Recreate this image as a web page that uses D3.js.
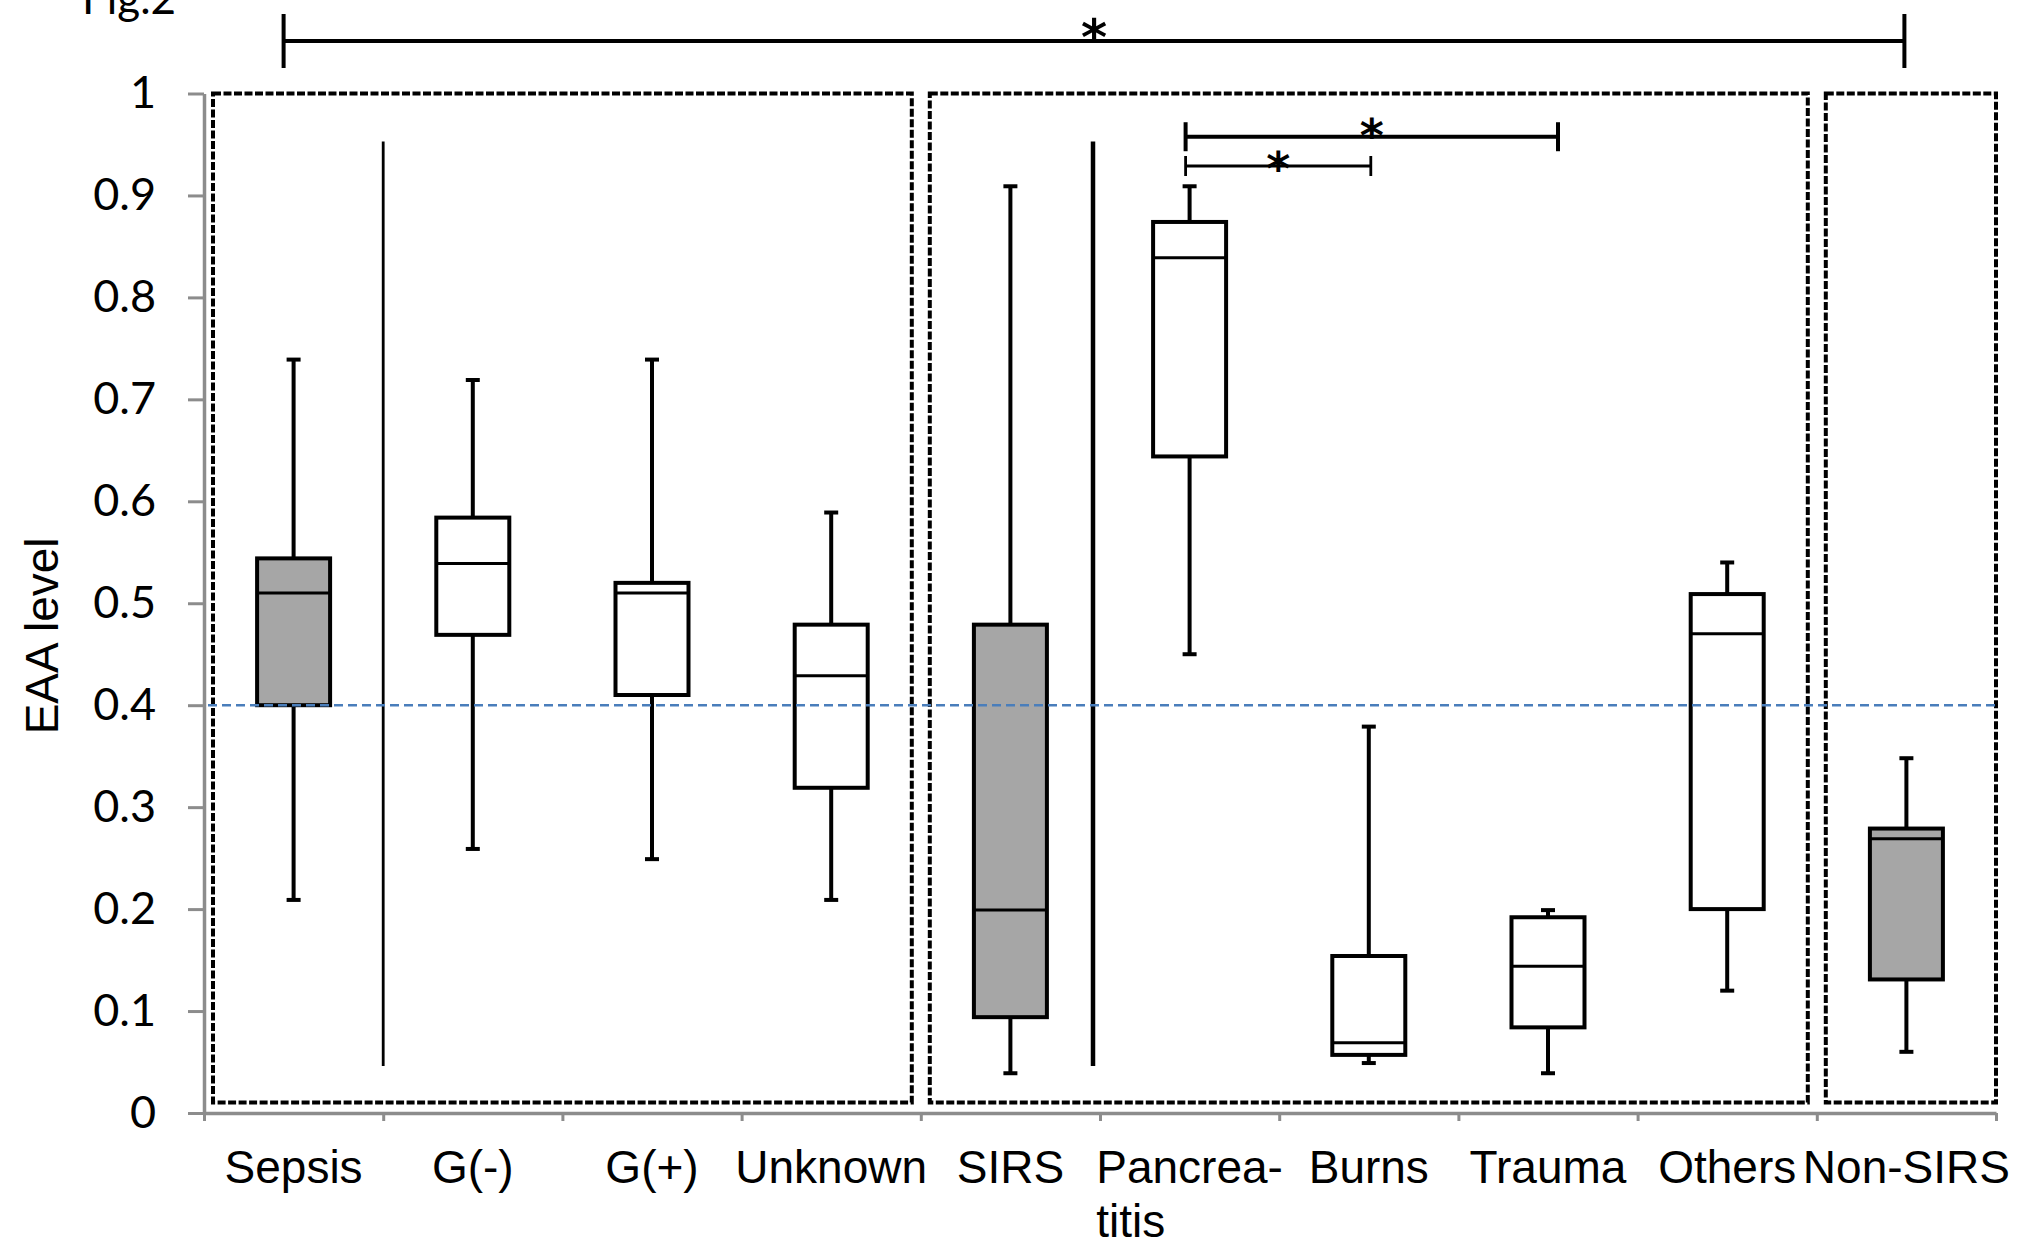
<!DOCTYPE html>
<html>
<head>
<meta charset="utf-8">
<script src="https://cdn.jsdelivr.net/npm/d3@7"></script>
<style>
  body { margin: 0; background: #fff; }
</style>
</head>
<body>
<div id="chart"></div>
<script>
// box statistics (EAA level)
const categories = ["Sepsis", "G(-)", "G(+)", "Unknown", "SIRS", "Pancrea-titis", "Burns", "Trauma", "Others", "Non-SIRS"];
const tickLabels = [["Sepsis"], ["G(-)"], ["G(+)"], ["Unknown"], ["SIRS"], ["Pancrea-", "titis"], ["Burns"], ["Trauma"], ["Others"], ["Non-SIRS"]];
const whiskerHigh = [0.739, 0.719, 0.739, 0.589, 0.909, 0.909, 0.379, 0.199, 0.540, 0.348];
const upperQuartile = [0.544, 0.584, 0.520, 0.479, 0.479, 0.874, 0.154, 0.192, 0.509, 0.279];
const medians = [0.510, 0.539, 0.510, 0.429, 0.199, 0.839, 0.069, 0.144, 0.470, 0.269];
const lowerQuartile = [0.400, 0.469, 0.410, 0.319, 0.094, 0.644, 0.057, 0.084, 0.200, 0.131];
const whiskerLow = [0.209, 0.259, 0.249, 0.209, 0.039, 0.450, 0.049, 0.039, 0.120, 0.060];
const shaded = ["Sepsis", "SIRS", "Non-SIRS"];

const yTicks = [0, 0.1, 0.2, 0.3, 0.4, 0.5, 0.6, 0.7, 0.8, 0.9, 1];
const cutoff = 0.4;

// dotted panels and the two vertical dividers
const panelFirst = ["Sepsis", "SIRS", "Non-SIRS"];
const panelLast = ["Unknown", "Others", "Non-SIRS"];
const panelTop = 1, panelBottom = 0.0103;
const dividers = ["G(-)", "Pancrea-titis"];
const dividerTop = 0.953, dividerBottom = 0.046;

// significance brackets
const sigFrom = ["Sepsis", "Pancrea-titis", "Pancrea-titis"];
const sigTo = ["Non-SIRS", "Trauma", "Burns"];
const sigLevel = [1.0515, 0.9576, 0.9289];

let margin = { top: 93.5, right: 40, bottom: 135, left: 204 },
    width = 2036 - margin.left - margin.right,
    height = 1248 - margin.top - margin.bottom;

let svgRoot = d3.select("#chart")
    .append("svg")
    .attr("width", 2036)
    .attr("height", 1248)
    .style("display", "block");

svgRoot.append("rect").attr("width", 2036).attr("height", 1248).attr("fill", "#fff");

let svg = svgRoot.append("g")
    .attr("transform", "translate(" + margin.left + "," + margin.top + ")");

let x = d3.scaleBand().domain(categories).range([0, width]);
let bw = x.bandwidth();
let cx = c => x(c) + bw / 2;
let y = d3.scaleLinear().domain([0, 1]).range([height, 0]);

const axisGrey = "#8c8c8c";

// "Fig.2" caption, cut off at the top edge as in the original
svgRoot.append("text")
    .attr("x", 82).attr("y", 14)
    .style("font", "44px Lato")
    .attr("fill", "#000")
    .text("Fig.2");

// ---- dotted panels ----
panelFirst.forEach((f, i) => {
    let x0 = x(f) + 9;
    let last = panelLast[i];
    let x1 = x(last) + bw - (last === categories[categories.length - 1] ? 0 : 9);
    svg.append("rect")
        .attr("x", x0)
        .attr("y", y(panelTop))
        .attr("width", x1 - x0)
        .attr("height", y(panelBottom) - y(panelTop))
        .attr("fill", "none")
        .attr("stroke", "#000")
        .attr("stroke-width", 4)
        .attr("stroke-dasharray", "8,2.5");
});

// ---- vertical dividers ----
dividers.forEach((d, i) => {
    svg.append("line")
        .attr("x1", x(d) - (i ? 7 : 0)).attr("x2", x(d) - (i ? 7 : 0))
        .attr("y1", y(dividerTop)).attr("y2", y(dividerBottom))
        .attr("stroke", "#000")
        .attr("stroke-width", i ? 4.5 : 2.8);
});

// ---- axes ----
let yAxis = svg.append("g")
    .call(d3.axisLeft(y).tickValues(yTicks).tickSize(16).tickSizeOuter(0).tickPadding(32)
        .tickFormat(d => String(+d.toFixed(1))));
yAxis.select(".domain").attr("stroke", axisGrey).attr("stroke-width", 3.5);
yAxis.selectAll(".tick line").attr("stroke", axisGrey).attr("stroke-width", 3);
yAxis.selectAll(".tick text")
    .attr("fill", "#000")
    .style("font", "45px Lato");

let xEdges = d3.scaleLinear().domain([0, categories.length]).range([0, width]);
let xAxis = svg.append("g")
    .attr("transform", "translate(0," + height + ")")
    .call(d3.axisBottom(xEdges).ticks(categories.length).tickSize(8).tickSizeOuter(0).tickFormat(""));
xAxis.select(".domain").attr("stroke", axisGrey).attr("stroke-width", 3.5);
xAxis.selectAll(".tick line").attr("stroke", axisGrey).attr("stroke-width", 3);

// category labels (multi-line labels share a left edge)
tickLabels.forEach((lines, i) => {
    let t = svg.append("text")
        .attr("y", height + 70)
        .style("font", "46px 'Liberation Sans', Arial, sans-serif")
        .attr("fill", "#000");
    lines.forEach((l, j) => {
        t.append("tspan").attr("dy", j ? 54 : 0).text(l);
    });
    let first = t.select("tspan").node().getComputedTextLength();
    let left = cx(categories[i]) - first / 2;
    t.selectAll("tspan").attr("x", left);
});

// y axis title
svgRoot.append("text")
    .attr("transform", "translate(58," + (margin.top + y(0.468)) + ") rotate(-90)")
    .attr("text-anchor", "middle")
    .style("font", "46px 'Liberation Sans', Arial, sans-serif")
    .attr("fill", "#000")
    .text("EAA level");

// ---- boxes ----
let boxW = 73, capW = 14;
let boxes = svg.selectAll(".box")
    .data(categories)
    .enter()
    .append("g")
    .attr("class", "box")
    .attr("transform", d => "translate(" + cx(d) + ",0)");

boxes.append("line")
    .attr("y1", (d, i) => y(whiskerLow[i]))
    .attr("y2", (d, i) => y(whiskerHigh[i]))
    .attr("stroke", "#000").attr("stroke-width", 4);

boxes.append("line")
    .attr("x1", -capW / 2).attr("x2", capW / 2)
    .attr("y1", (d, i) => y(whiskerHigh[i])).attr("y2", (d, i) => y(whiskerHigh[i]))
    .attr("stroke", "#000").attr("stroke-width", 4);

boxes.append("line")
    .attr("x1", -capW / 2).attr("x2", capW / 2)
    .attr("y1", (d, i) => y(whiskerLow[i])).attr("y2", (d, i) => y(whiskerLow[i]))
    .attr("stroke", "#000").attr("stroke-width", 4);

boxes.append("rect")
    .attr("x", -boxW / 2)
    .attr("width", boxW)
    .attr("y", (d, i) => y(upperQuartile[i]))
    .attr("height", (d, i) => y(lowerQuartile[i]) - y(upperQuartile[i]))
    .attr("fill", d => shaded.includes(d) ? "#a6a6a6" : "#fff")
    .attr("stroke", "#000").attr("stroke-width", 4);

boxes.append("line")
    .attr("x1", -boxW / 2).attr("x2", boxW / 2)
    .attr("y1", (d, i) => y(medians[i])).attr("y2", (d, i) => y(medians[i]))
    .attr("stroke", "#000").attr("stroke-width", 3);

// ---- cutoff line ----
svg.append("line")
    .attr("x1", 4).attr("x2", width)
    .attr("y1", y(cutoff)).attr("y2", y(cutoff))
    .attr("stroke", "#4a7ebb")
    .attr("stroke-width", 2.5)
    .attr("stroke-dasharray", "9,5");

// ---- significance brackets ----
const capHalf = [27, 14.5, 10];
const sigWidth = [4, 4, 2.8];
const starLift = [15, 11, 8];
const starSize = [50, 46, 46];
const nudgeFrom = [-10, -4, -4], nudgeTo = [-2, 10, 2];
sigFrom.forEach((f, i) => {
    let x0 = cx(f) + nudgeFrom[i], x1 = cx(sigTo[i]) + nudgeTo[i], ly = y(sigLevel[i]);
    let g = svg.append("g").attr("stroke", "#000").attr("stroke-width", sigWidth[i]);
    g.append("line").attr("x1", x0).attr("x2", x1).attr("y1", ly).attr("y2", ly);
    g.append("line").attr("x1", x0).attr("x2", x0).attr("y1", ly - capHalf[i]).attr("y2", ly + capHalf[i]);
    g.append("line").attr("x1", x1).attr("x2", x1).attr("y1", ly - capHalf[i]).attr("y2", ly + capHalf[i]);
    svg.append("text")
        .attr("x", (x0 + x1) / 2)
        .attr("y", ly - starLift[i] + 0.58 * starSize[i])
        .attr("text-anchor", "middle")
        .style("font", "bold " + starSize[i] + "px 'DejaVu Sans', sans-serif")
        .attr("fill", "#000")
        .text("*");
});
</script>
</body>
</html>
